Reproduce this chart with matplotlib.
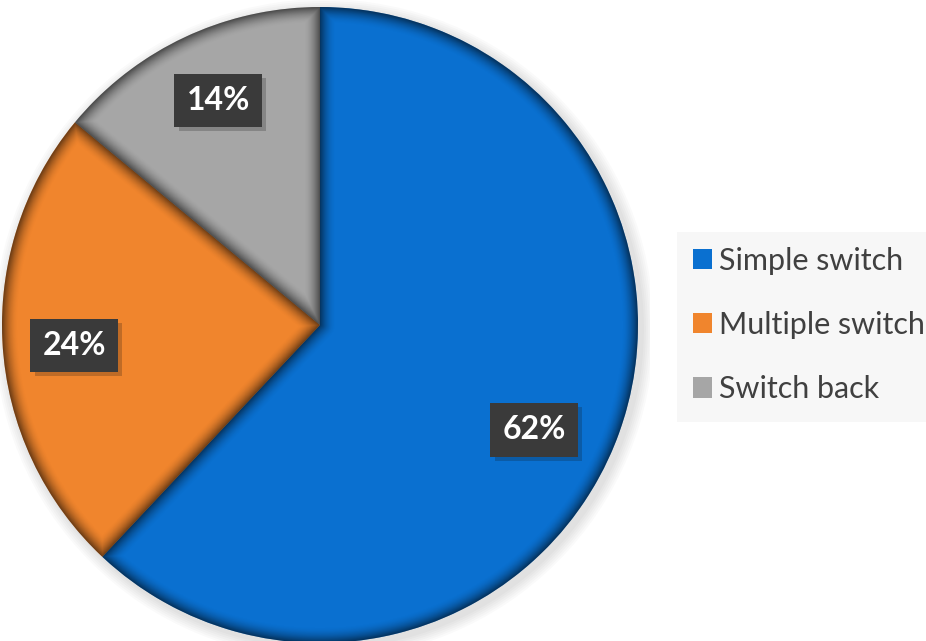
import numpy as np
import matplotlib.pyplot as plt
import matplotlib.patheffects as pe
from matplotlib.patches import Patch, Circle, Rectangle

labels = ['Simple switch', 'Multiple switch', 'Switch back']
shares = [62, 24, 14]
colors = ['#0a70d0', '#f0852d', '#a6a6a6']
# where each percentage box sits: angular nudge (deg) and radius (fraction of pie)
label_shift = [-4.5, 1.1, -0.8]
label_radius = [0.75, 0.775, 0.775]

fig = plt.figure(figsize=(9.26, 6.41), dpi=100)
fig.patch.set_facecolor('white')

# pie axes: centre at (320, 325) px, radius 318 px
W, H = 926, 641
cx, cy, R, half = 320, 325, 318, 330
ax = fig.add_axes([(cx - half) / W, (H - cy - half) / H, 2 * half / W, 2 * half / H])
rad = R / half

wedges, _ = ax.pie(shares, colors=colors, startangle=90, counterclock=False,
                   radius=rad, wedgeprops=dict(linewidth=0))
ax.set_xlim(-1, 1)
ax.set_ylim(-1, 1)
ax.set_aspect('equal')
ax.axis('off')

# soft grey halo behind the pie
for k in range(6):
    ax.add_patch(Circle((0.012, -0.012), rad + 0.006 * (k + 1), facecolor='#000000',
                        alpha=0.018, edgecolor='none', zorder=0))

# bevel: darken each wedge near its rim and its straight sides
n = 800
g = np.linspace(-1, 1, n)
xx, yy = np.meshgrid(g, g)
r = np.hypot(xx, yy)
phi = np.arctan2(yy, xx)
d = rad - r
bounds = 90 - np.cumsum([0] + shares) * 3.6
for b in np.deg2rad(bounds[:-1]):
    diff = phi - b
    perp = np.where(np.cos(diff) > 0, r * np.abs(np.sin(diff)), r)
    d = np.minimum(d, perp)
bw = 16 / half
alpha = np.clip(1 - d / bw, 0, 1) ** 1.8 * 0.55
shade = np.zeros((n, n, 4))
shade[..., 3] = alpha
im = ax.imshow(shade, extent=(-1, 1, -1, 1), origin='lower', zorder=3,
               interpolation='bilinear')
im.set_clip_path(Circle((0, 0), rad, transform=ax.transData))

# percentage boxes
for w, pct, dth, rf in zip(wedges, shares, label_shift, label_radius):
    mid = np.deg2rad((w.theta1 + w.theta2) / 2 + dth)
    rl = rf * rad
    t = ax.text(rl * np.cos(mid), rl * np.sin(mid), f'{pct}%', ha='center', va='center',
                color='white', fontsize=23, fontweight='bold', family='Lato', zorder=5,
                bbox=dict(boxstyle='square,pad=0.38', facecolor='#3a3a3a',
                          edgecolor='none', linewidth=0))
    t.get_bbox_patch().set_path_effects([pe.SimplePatchShadow(offset=(3, -3), alpha=0.22),
                                         pe.Normal()])

# legend panel
fig.patches.append(Rectangle((677 / W, 1 - 422 / H), (W - 677) / W, 190 / H,
                             transform=fig.transFigure, facecolor='#f7f7f7',
                             edgecolor='none', zorder=0))
handles = [Patch(facecolor=c, edgecolor='none') for c in colors]
leg = fig.legend(handles, labels, loc='center left', bbox_to_anchor=(693 / W, 1 - 325 / H),
                 frameon=False, handlelength=0.62, handleheight=0.65,
                 handletextpad=0.23, labelspacing=1.18, borderpad=0, borderaxespad=0,
                 prop=dict(family='Lato', size=22))
for t in leg.get_texts():
    t.set_color('#404040')

plt.savefig('out.png', dpi=100)
